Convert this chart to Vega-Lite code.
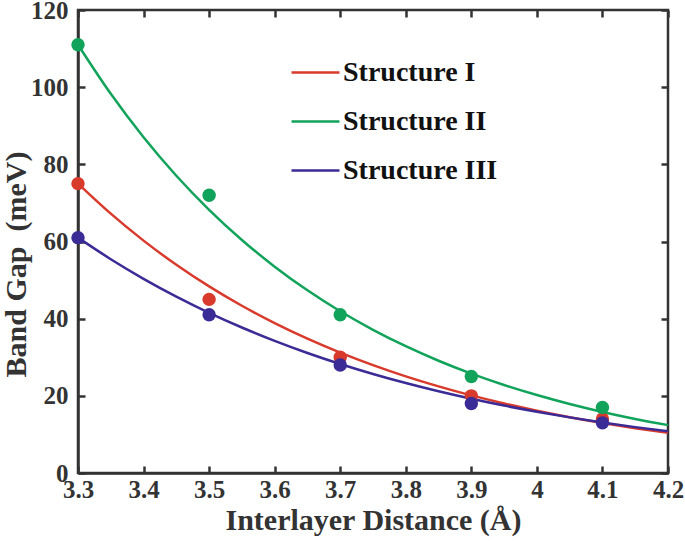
{
  "$schema": "https://vega.github.io/schema/vega-lite/v6.json",
  "width": 590,
  "height": 463,
  "autosize": {"type": "none"},
  "padding": {"left": 78, "top": 10, "right": 17, "bottom": 75},
  "background": "white",
  "config": {
    "view": {"stroke": "#333333", "strokeWidth": 2.5},
    "font": "Liberation Serif",
    "axis": {
      "labelFont": "Liberation Serif", "labelFontWeight": "bold", "labelFontSize": 25, "labelColor": "#333333",
      "titleFont": "Liberation Serif", "titleFontWeight": "bold", "titleFontSize": 30, "titleColor": "#333333",
      "domainColor": "#333333", "domainWidth": 2.5, "tickColor": "#333333", "tickWidth": 2.5, "tickSize": -7,
      "grid": false
    }
  },
  "datasets": {
    "pts": [
      {"d": 3.3, "gap": 75, "s": "Structure I"},
      {"d": 3.5, "gap": 45, "s": "Structure I"},
      {"d": 3.7, "gap": 30, "s": "Structure I"},
      {"d": 3.9, "gap": 20, "s": "Structure I"},
      {"d": 4.1, "gap": 14, "s": "Structure I"},
      {"d": 3.3, "gap": 111, "s": "Structure II"},
      {"d": 3.5, "gap": 72, "s": "Structure II"},
      {"d": 3.7, "gap": 41, "s": "Structure II"},
      {"d": 3.9, "gap": 25, "s": "Structure II"},
      {"d": 4.1, "gap": 17, "s": "Structure II"},
      {"d": 3.3, "gap": 61, "s": "Structure III"},
      {"d": 3.5, "gap": 41, "s": "Structure III"},
      {"d": 3.7, "gap": 28, "s": "Structure III"},
      {"d": 3.9, "gap": 18, "s": "Structure III"},
      {"d": 4.1, "gap": 13, "s": "Structure III"}
    ],
    "fit": [
      {"d": 3.30, "gap": 75, "s": "Structure I"},
      {"d": 3.35, "gap": 67.21, "s": "Structure I"},
      {"d": 3.40, "gap": 60.23, "s": "Structure I"},
      {"d": 3.45, "gap": 53.97, "s": "Structure I"},
      {"d": 3.50, "gap": 48.36, "s": "Structure I"},
      {"d": 3.55, "gap": 43.34, "s": "Structure I"},
      {"d": 3.60, "gap": 38.84, "s": "Structure I"},
      {"d": 3.65, "gap": 34.80, "s": "Structure I"},
      {"d": 3.70, "gap": 31.19, "s": "Structure I"},
      {"d": 3.75, "gap": 27.95, "s": "Structure I"},
      {"d": 3.80, "gap": 25.04, "s": "Structure I"},
      {"d": 3.85, "gap": 22.44, "s": "Structure I"},
      {"d": 3.90, "gap": 20.11, "s": "Structure I"},
      {"d": 3.95, "gap": 18.02, "s": "Structure I"},
      {"d": 4.00, "gap": 16.15, "s": "Structure I"},
      {"d": 4.05, "gap": 14.47, "s": "Structure I"},
      {"d": 4.10, "gap": 12.97, "s": "Structure I"},
      {"d": 4.15, "gap": 11.62, "s": "Structure I"},
      {"d": 4.20, "gap": 10.41, "s": "Structure I"},
      {"d": 3.30, "gap": 111, "s": "Structure II"},
      {"d": 3.35, "gap": 98.28, "s": "Structure II"},
      {"d": 3.40, "gap": 87.02, "s": "Structure II"},
      {"d": 3.45, "gap": 77.05, "s": "Structure II"},
      {"d": 3.50, "gap": 68.22, "s": "Structure II"},
      {"d": 3.55, "gap": 60.40, "s": "Structure II"},
      {"d": 3.60, "gap": 53.48, "s": "Structure II"},
      {"d": 3.65, "gap": 47.35, "s": "Structure II"},
      {"d": 3.70, "gap": 41.92, "s": "Structure II"},
      {"d": 3.75, "gap": 37.12, "s": "Structure II"},
      {"d": 3.80, "gap": 32.87, "s": "Structure II"},
      {"d": 3.85, "gap": 29.10, "s": "Structure II"},
      {"d": 3.90, "gap": 25.76, "s": "Structure II"},
      {"d": 3.95, "gap": 22.81, "s": "Structure II"},
      {"d": 4.00, "gap": 20.20, "s": "Structure II"},
      {"d": 4.05, "gap": 17.88, "s": "Structure II"},
      {"d": 4.10, "gap": 15.83, "s": "Structure II"},
      {"d": 4.15, "gap": 14.02, "s": "Structure II"},
      {"d": 4.20, "gap": 12.41, "s": "Structure II"},
      {"d": 3.30, "gap": 61, "s": "Structure III"},
      {"d": 3.35, "gap": 55.41, "s": "Structure III"},
      {"d": 3.40, "gap": 50.33, "s": "Structure III"},
      {"d": 3.45, "gap": 45.71, "s": "Structure III"},
      {"d": 3.50, "gap": 41.52, "s": "Structure III"},
      {"d": 3.55, "gap": 37.71, "s": "Structure III"},
      {"d": 3.60, "gap": 34.26, "s": "Structure III"},
      {"d": 3.65, "gap": 31.11, "s": "Structure III"},
      {"d": 3.70, "gap": 28.26, "s": "Structure III"},
      {"d": 3.75, "gap": 25.67, "s": "Structure III"},
      {"d": 3.80, "gap": 23.32, "s": "Structure III"},
      {"d": 3.85, "gap": 21.18, "s": "Structure III"},
      {"d": 3.90, "gap": 19.24, "s": "Structure III"},
      {"d": 3.95, "gap": 17.47, "s": "Structure III"},
      {"d": 4.00, "gap": 15.87, "s": "Structure III"},
      {"d": 4.05, "gap": 14.42, "s": "Structure III"},
      {"d": 4.10, "gap": 13.09, "s": "Structure III"},
      {"d": 4.15, "gap": 11.89, "s": "Structure III"},
      {"d": 4.20, "gap": 10.80, "s": "Structure III"}
    ]
  },
  "layer": [
    {
      "data": {"name": "fit"},
      "mark": {"type": "line", "strokeWidth": 2.5, "interpolate": "monotone"},
      "encoding": {
        "x": {"field": "d", "type": "quantitative", "scale": {"domain": [3.3, 4.2], "nice": false},
              "axis": {"orient": "bottom", "values": [3.3, 3.4, 3.5, 3.6, 3.7, 3.8, 3.9, 4.0, 4.1, 4.2], "format": "~g", "labelPadding": 11, "title": "Interlayer Distance (Å)", "titlePadding": 3, "labelFlush": false}},
        "y": {"field": "gap", "type": "quantitative", "scale": {"domain": [0, 120], "nice": false},
              "axis": {"orient": "left", "values": [0, 20, 40, 60, 80, 100, 120], "labelPadding": 17, "title": "Band Gap\u00a0\u00a0(meV)", "titleFontSize": 30, "titleX": -77, "titleY": 254, "titleBaseline": "top", "labelFlush": false}},
        "color": {"field": "s", "type": "nominal",
                  "scale": {"domain": ["Structure I", "Structure II", "Structure III"], "range": ["#d83a2c", "#12a35b", "#3a2b96"]},
                  "legend": {"title": null, "orient": "none", "legendX": 212, "legendY": 37, "symbolType": "stroke", "symbolSize": 2300, "symbolStrokeWidth": 2.5,
                             "labelFont": "Liberation Serif", "labelFontWeight": "bold", "labelFontSize": 28, "labelColor": "#111111", "rowPadding": 9, "labelOffset": 2}}
      }
    },
    {
      "data": {"name": "pts"},
      "mark": {"type": "circle", "size": 180, "opacity": 1},
      "encoding": {
        "x": {"field": "d", "type": "quantitative", "axis": {"orient": "top", "values": [3.3, 3.4, 3.5, 3.6, 3.7, 3.8, 3.9, 4.0, 4.1, 4.2], "labels": false, "title": null, "domain": false}},
        "y": {"field": "gap", "type": "quantitative", "axis": {"orient": "right", "values": [0, 20, 40, 60, 80, 100, 120], "labels": false, "title": null, "domain": false}},
        "color": {"field": "s", "type": "nominal", "legend": null}
      }
    }
  ],
  "resolve": {"axis": {"x": "independent", "y": "independent"}}
}
